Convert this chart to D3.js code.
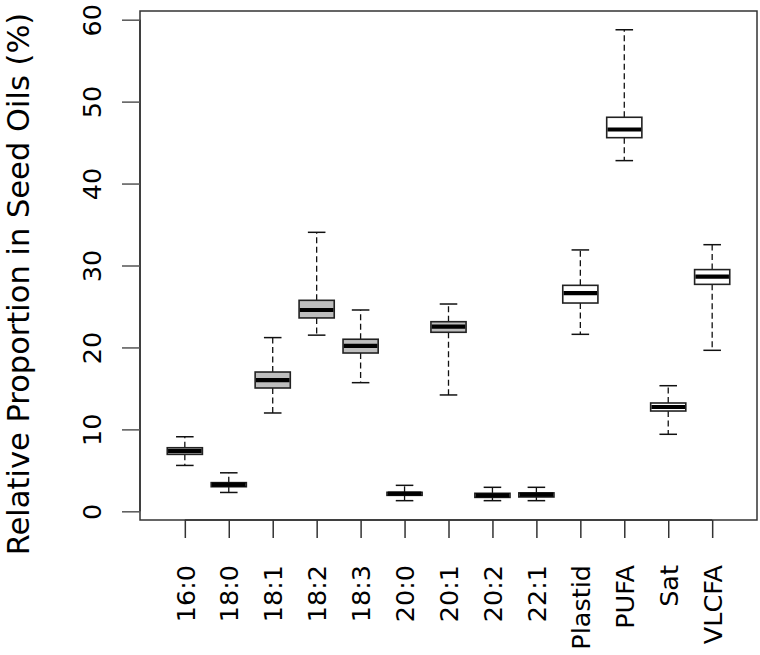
<!DOCTYPE html>
<html>
<head>
<meta charset="utf-8">
<script src="https://cdn.jsdelivr.net/npm/d3@7"></script>
<style>
  html, body { margin: 0; padding: 0; background: #fff; }
  svg { display: block; }
  text { font-family: "DejaVu Sans", sans-serif; fill: #000; }
</style>
</head>
<body>
<svg id="chart" width="760" height="655"></svg>
<script>
// ---- data ----
const categories = ["16:0","18:0","18:1","18:2","18:3","20:0","20:1","20:2","22:1","Plastid","PUFA","Sat","VLCFA"];
const whiskerLow  = [5.6, 2.3, 12.0, 21.5, 15.7, 1.3, 14.2, 1.3, 1.3, 21.6, 42.8, 9.4, 19.65];
const q1          = [6.95, 3.0, 15.05, 23.6, 19.32, 1.95, 21.85, 1.7, 1.75, 25.42, 45.6, 12.24, 27.7];
const median      = [7.36, 3.25, 16.0, 24.57, 20.18, 2.15, 22.53, 1.95, 2.03, 26.64, 46.6, 12.73, 28.64];
const q3          = [7.76, 3.5, 17.0, 25.75, 21.0, 2.32, 23.14, 2.2, 2.25, 27.58, 48.09, 13.22, 29.5];
const whiskerHigh = [9.1, 4.7, 21.2, 34.05, 24.57, 3.17, 25.3, 2.93, 2.93, 31.9, 58.77, 15.33, 32.54];
const fillColors  = ["#bebebe","#bebebe","#bebebe","#bebebe","#bebebe","#bebebe","#bebebe","#bebebe","#bebebe","#ffffff","#ffffff","#ffffff","#ffffff"];
const yTicks = [0, 10, 20, 30, 40, 50, 60];
const yTitle = "Relative Proportion in Seed Oils (%)";

// ---- layout ----
const plot = {left: 140, right: 757, top: 11, bottom: 520};
const svg = d3.select("#chart");

const x = d3.scaleLinear().domain([-0.02, 14.02]).range([plot.left, plot.right]);
const y = d3.scaleLinear().domain([-1.06, 61.06]).range([plot.bottom, plot.top]);

const boxW = x(0.8) - x(0);
const capW = boxW / 2;
const tickFont = 25.5;
const titleFont = 30.5;

const data = categories.map((c, i) => ({
  cat: c, pos: i + 1,
  lo: whiskerLow[i], q1: q1[i], med: median[i], q3: q3[i], hi: whiskerHigh[i],
  fill: fillColors[i]
}));

const g = svg.append("g");

const box = g.selectAll("g.box").data(data).join("g").attr("class", "box");

// whiskers (dashed)
box.append("line")
  .attr("x1", d => x(d.pos)).attr("x2", d => x(d.pos))
  .attr("y1", d => y(d.q3)).attr("y2", d => y(d.hi))
  .attr("stroke", "#111").attr("stroke-width", 1.3).attr("stroke-dasharray", "6,3.5");
box.append("line")
  .attr("x1", d => x(d.pos)).attr("x2", d => x(d.pos))
  .attr("y1", d => y(d.q1)).attr("y2", d => y(d.lo))
  .attr("stroke", "#111").attr("stroke-width", 1.3).attr("stroke-dasharray", "6,3.5");
// staples
box.append("line")
  .attr("x1", d => x(d.pos) - capW / 2).attr("x2", d => x(d.pos) + capW / 2)
  .attr("y1", d => y(d.hi)).attr("y2", d => y(d.hi))
  .attr("stroke", "#111").attr("stroke-width", 1.5);
box.append("line")
  .attr("x1", d => x(d.pos) - capW / 2).attr("x2", d => x(d.pos) + capW / 2)
  .attr("y1", d => y(d.lo)).attr("y2", d => y(d.lo))
  .attr("stroke", "#111").attr("stroke-width", 1.5);
// boxes
box.append("rect")
  .attr("x", d => x(d.pos) - boxW / 2)
  .attr("width", boxW)
  .attr("y", d => y(d.q3))
  .attr("height", d => y(d.q1) - y(d.q3))
  .attr("fill", d => d.fill)
  .attr("stroke", "#222").attr("stroke-width", 1.6);
// medians
box.append("line")
  .attr("x1", d => x(d.pos) - boxW / 2 + 0.8).attr("x2", d => x(d.pos) + boxW / 2 - 0.8)
  .attr("y1", d => y(d.med)).attr("y2", d => y(d.med))
  .attr("stroke", "#000").attr("stroke-width", 4.2);

// frame
g.append("rect")
  .attr("x", plot.left).attr("y", plot.top)
  .attr("width", plot.right - plot.left).attr("height", plot.bottom - plot.top)
  .attr("fill", "none").attr("stroke", "#333").attr("stroke-width", 1.5);

// y axis
const yAxis = d3.axisLeft(y).tickValues(yTicks).tickSize(18).tickFormat(d3.format("d"));
const ya = g.append("g").attr("transform", `translate(${plot.left},0)`).call(yAxis);
ya.select(".domain").attr("stroke", "#333").attr("stroke-width", 1.5)
  .attr("d", `M0,${y(0)}V${y(60)}`);
ya.selectAll(".tick line").attr("stroke", "#555").attr("stroke-width", 1.5);
ya.selectAll(".tick text")
  .attr("x", null).attr("dy", null)
  .attr("font-size", tickFont)
  .attr("font-family", "DejaVu Sans")
  .attr("text-anchor", "middle")
  .attr("transform", "translate(-39,0) rotate(-90)")
  .attr("fill", "#000");

// x axis
const xAxis = d3.axisBottom(x).tickValues(data.map(d => d.pos)).tickSize(18)
  .tickFormat((d, i) => categories[i]);
const xa = g.append("g").attr("transform", `translate(0,${plot.bottom})`).call(xAxis);
xa.select(".domain").attr("stroke", "#333").attr("stroke-width", 1.5)
  .attr("d", `M${x(1)},0H${x(13)}`);
xa.selectAll(".tick line").attr("stroke", "#333").attr("stroke-width", 1.5);
xa.selectAll(".tick text")
  .attr("x", null).attr("y", null).attr("dy", "0.36em")
  .attr("font-size", tickFont)
  .attr("font-family", "DejaVu Sans")
  .attr("text-anchor", "end")
  .attr("transform", "translate(0,45) rotate(-90)")
  .attr("fill", "#000");

// y title
svg.append("text")
  .attr("transform", `translate(28.5,284) rotate(-90)`)
  .attr("text-anchor", "middle")
  .attr("font-size", titleFont)
  .text(yTitle);
</script>
</body>
</html>
